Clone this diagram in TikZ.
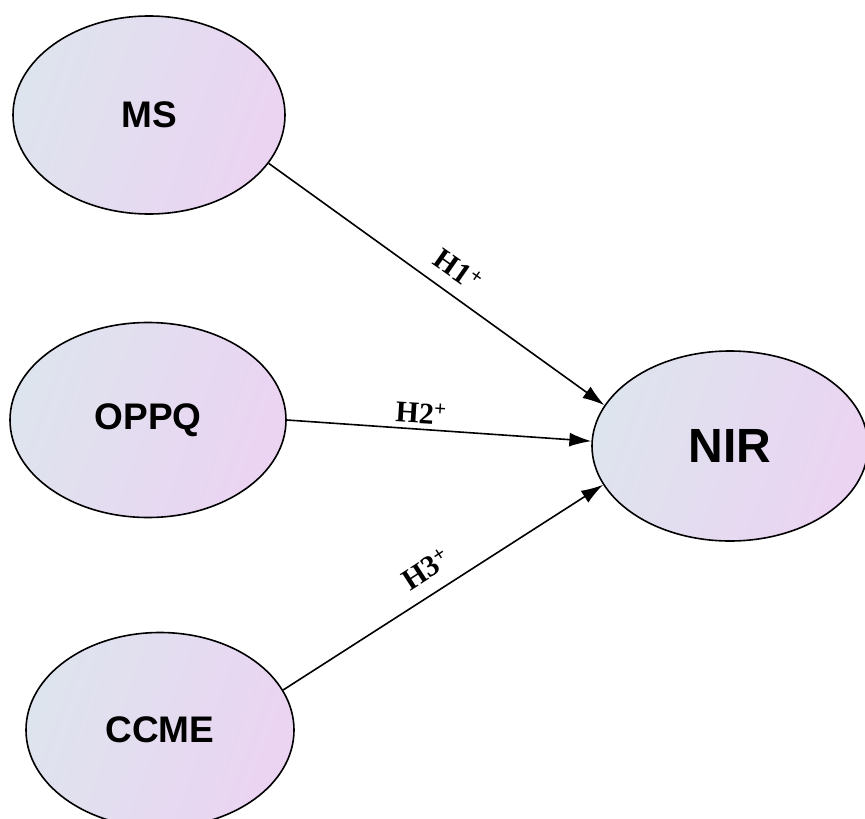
\documentclass[tikz,border=0pt]{standalone}
\usepackage{fontspec}
\setmainfont{Liberation Serif}
\setsansfont{Liberation Sans}
\usetikzlibrary{shapes.geometric,arrows.meta}
\definecolor{gA}{HTML}{DEE4EE}
\definecolor{gB}{HTML}{EBD3F2}
\tikzset{
  construct/.style={ellipse, draw=black, line width=1.6pt, left color=gA, right color=gB, shading angle=70,
    inner sep=0pt, font=\sffamily\bfseries\fontsize{37}{37}\selectfont},
  link/.style={line width=1.6pt, -{Latex[length=22pt,width=14pt]}},
  hlab/.style={font=\bfseries\fontsize{30}{30}\selectfont, inner sep=1pt}
}
\begin{document}
\begin{tikzpicture}[x=1pt,y=-1pt]
\useasboundingbox (0,0) rectangle (865,819);
\node[construct, minimum width=272pt, minimum height=198pt] (ms) at (149,115) {MS};
\node[construct, minimum width=276pt, minimum height=195pt] (oppq) at (148,420) {OPPQ};
\node[construct, minimum width=268pt, minimum height=195pt] (ccme) at (160,730) {CCME};
\node[construct, minimum width=276pt, minimum height=190pt, font=\sffamily\bfseries\fontsize{48}{48}\selectfont] (nir) at (730,446) {NIR};
\draw[link] (ms.-22) -- (nir.162);
\draw[link] (oppq.east) -- (nir.178);
\draw[link] (ccme.18.7) -- (nir.-163);
\node[hlab, rotate=-35] (h1) at (458,270) {H1\textsuperscript{+}};
\node[hlab, rotate=-3.5] (h2) at (421,413) {H2\textsuperscript{+}};
\node[hlab, rotate=33] (h3) at (426,569) {H3\textsuperscript{+}};
\end{tikzpicture}
\end{document}
